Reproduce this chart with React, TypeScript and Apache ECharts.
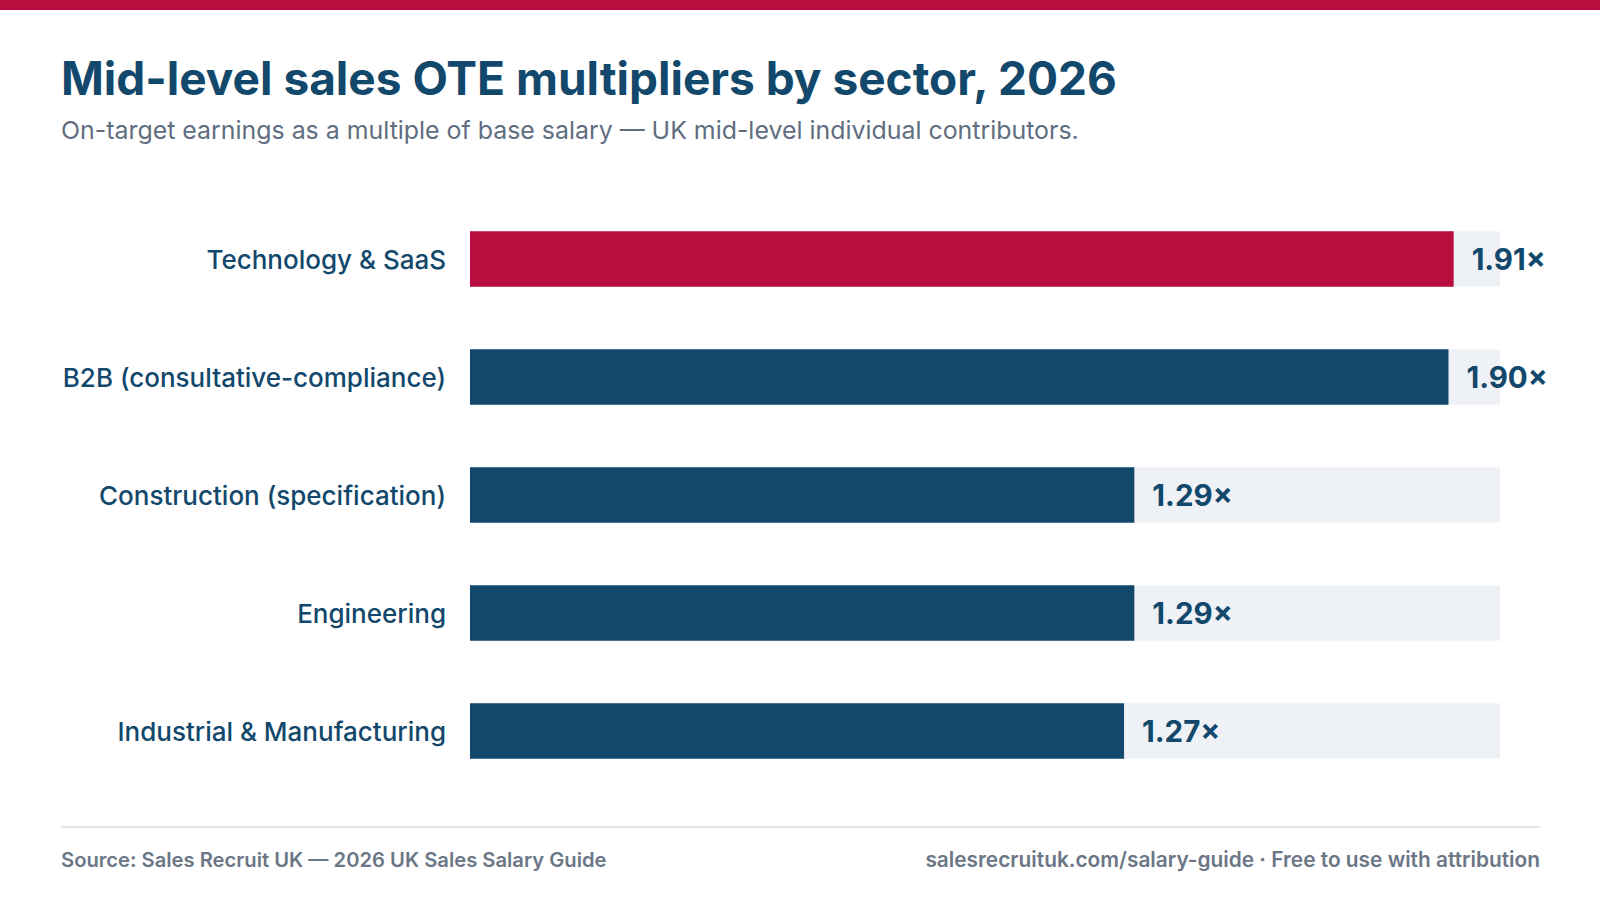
import React, { useEffect, useRef } from "react";
import * as echarts from "echarts";

const categories = [
  "Technology & SaaS",
  "B2B (consultative-compliance)",
  "Construction (specification)",
  "Engineering",
  "Industrial & Manufacturing",
];
const values = [1.91, 1.9, 1.29, 1.29, 1.27];
const highlighted = [true, false, false, false, false];
const axisMax = 2.0;

const titleText = "Mid-level sales OTE multipliers by sector, 2026";
const subtitleText =
  "On-target earnings as a multiple of base salary \u2014 UK mid-level individual contributors.";
const sourceText = "Source: Sales Recruit UK \u2014 2026 UK Sales Salary Guide";
const creditText = "salesrecruituk.com/salary-guide \u00b7 Free to use with attribution";

const NAVY = "#12486c";
const RED = "#b90d40";
const TRACK = "#eef1f5";
const GREY = "#5f6e80";
const FONT = "Inter, 'Open Sans', sans-serif";

export default function App() {
  const ref = useRef<HTMLDivElement>(null);
  useEffect(() => {
    if (!ref.current) return;
    const chart = echarts.init(ref.current, undefined, { renderer: "svg" });
    chart.setOption({
      animation: false,
      backgroundColor: "#ffffff",
      grid: { left: 470, right: 100, top: 200, bottom: 110 },
      xAxis: {
        type: "value",
        min: 0,
        max: axisMax,
        show: false,
      },
      yAxis: {
        type: "category",
        inverse: true,
        data: categories,
        axisLine: { show: false },
        axisTick: { show: false },
        splitLine: { show: false },
        axisLabel: {
          color: NAVY,
          fontSize: 26,
          fontWeight: 500,
          fontFamily: FONT,
          margin: 24,
        },
      },
      series: [
        {
          type: "bar",
          barWidth: "47%",
          showBackground: true,
          backgroundStyle: { color: TRACK },
          data: values.map((v, i) => ({
            value: v,
            itemStyle: { color: highlighted[i] ? RED : NAVY },
          })),
          label: {
            show: true,
            position: "right",
            distance: 18,
            color: NAVY,
            fontSize: 29.5,
            fontWeight: 700,
            fontFamily: FONT,
            formatter: (p: any) => p.value.toFixed(2) + "\u00d7",
          },
        },
      ],
      graphic: [
        { type: "rect", shape: { x: 0, y: 0, width: 1600, height: 10 }, style: { fill: RED } },
        {
          type: "text",
          x: 61,
          y: 78,
          style: {
            text: titleText,
            fill: NAVY,
            font: `700 46px ${FONT}`,
            verticalAlign: "middle",
          },
        },
        {
          type: "text",
          x: 61,
          y: 130,
          style: {
            text: subtitleText,
            fill: GREY,
            font: `400 24.9px ${FONT}`,
            verticalAlign: "middle",
          },
        },
        {
          type: "line",
          shape: { x1: 61, y1: 827, x2: 1540, y2: 827 },
          style: { stroke: "#e2e6eb", lineWidth: 2 },
        },
        {
          type: "text",
          x: 61,
          y: 859,
          style: {
            text: sourceText,
            fill: "#6b7786",
            font: `600 20.2px ${FONT}`,
            verticalAlign: "middle",
          },
        },
        {
          type: "text",
          x: 1540,
          y: 859,
          style: {
            text: creditText,
            fill: "#6b7786",
            font: `600 20.85px ${FONT}`,
            verticalAlign: "middle",
            align: "right",
          },
        },
      ],
    });
    return () => chart.dispose();
  }, []);
  return (
    <div
      ref={ref}
      style={{ position: "fixed", left: 0, top: 0, width: 1600, height: 900 }}
    />
  );
}
